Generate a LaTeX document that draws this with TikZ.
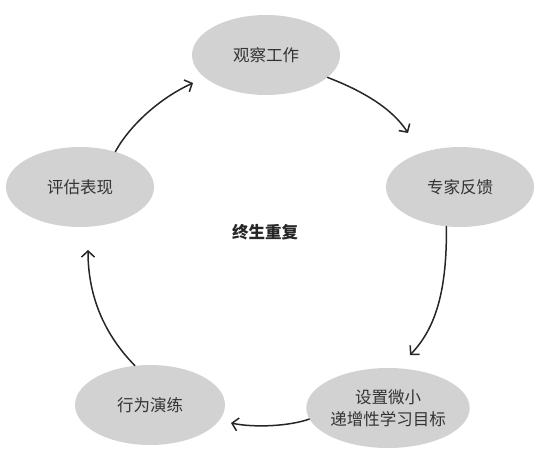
\documentclass[tikz,border=0pt]{standalone}
\usepackage{fontspec}
\newfontfamily\cjk{Noto Sans CJK SC}
\usetikzlibrary{shapes.geometric,arrows.meta}
\tikzset{
  stage/.style={ellipse, fill=gray!35!white, draw=none, minimum width=148pt, minimum height=80pt, inner sep=0pt,
    text=black!80, font=\cjk\fontsize{16.5}{22}\selectfont, align=center},
  flow/.style={line width=1.5pt, black!85, line cap=round, -{Straight Barb[length=6pt,width=13pt,line width=1.5pt]}}
}
\begin{document}
\begin{tikzpicture}[x=1pt,y=-1pt]
\useasboundingbox (0,0) rectangle (537,460);
\node[stage] (obs) at (266,55) {观察工作};
\node[stage] (fb) at (460,187) {专家反馈};
\node[stage, minimum width=150pt] (goal) at (388,408) {设置微小\\递增性学习目标};
\node[stage, minimum width=150pt] (prac) at (150,405) {行为演练};
\node[stage] (eval) at (80,187) {评估表现};
\node[font=\cjk\bfseries\fontsize{16.5}{20}\selectfont, text=black!85] (center) at (265,232) {终生重复};
\coordinate (e1) at (408,133);
\coordinate (e2) at (410,355);
\coordinate (e3) at (231,423);
\coordinate (e4) at (88,250);
\coordinate (e5) at (193,83);
\draw[flow] (obs.-20) .. controls (355,88) and (390,105) .. (e1);
\draw[flow] (fb.-109) .. controls (447,290) and (436,328) .. (e2);
\draw[flow] (goal.-172) .. controls (290,426) and (255,428) .. (e3);
\draw[flow] (prac.111) .. controls (100,330) and (88,290) .. (e4);
\draw[flow] (eval.45) .. controls (130,125) and (160,98) .. (e5);
\end{tikzpicture}
\end{document}
